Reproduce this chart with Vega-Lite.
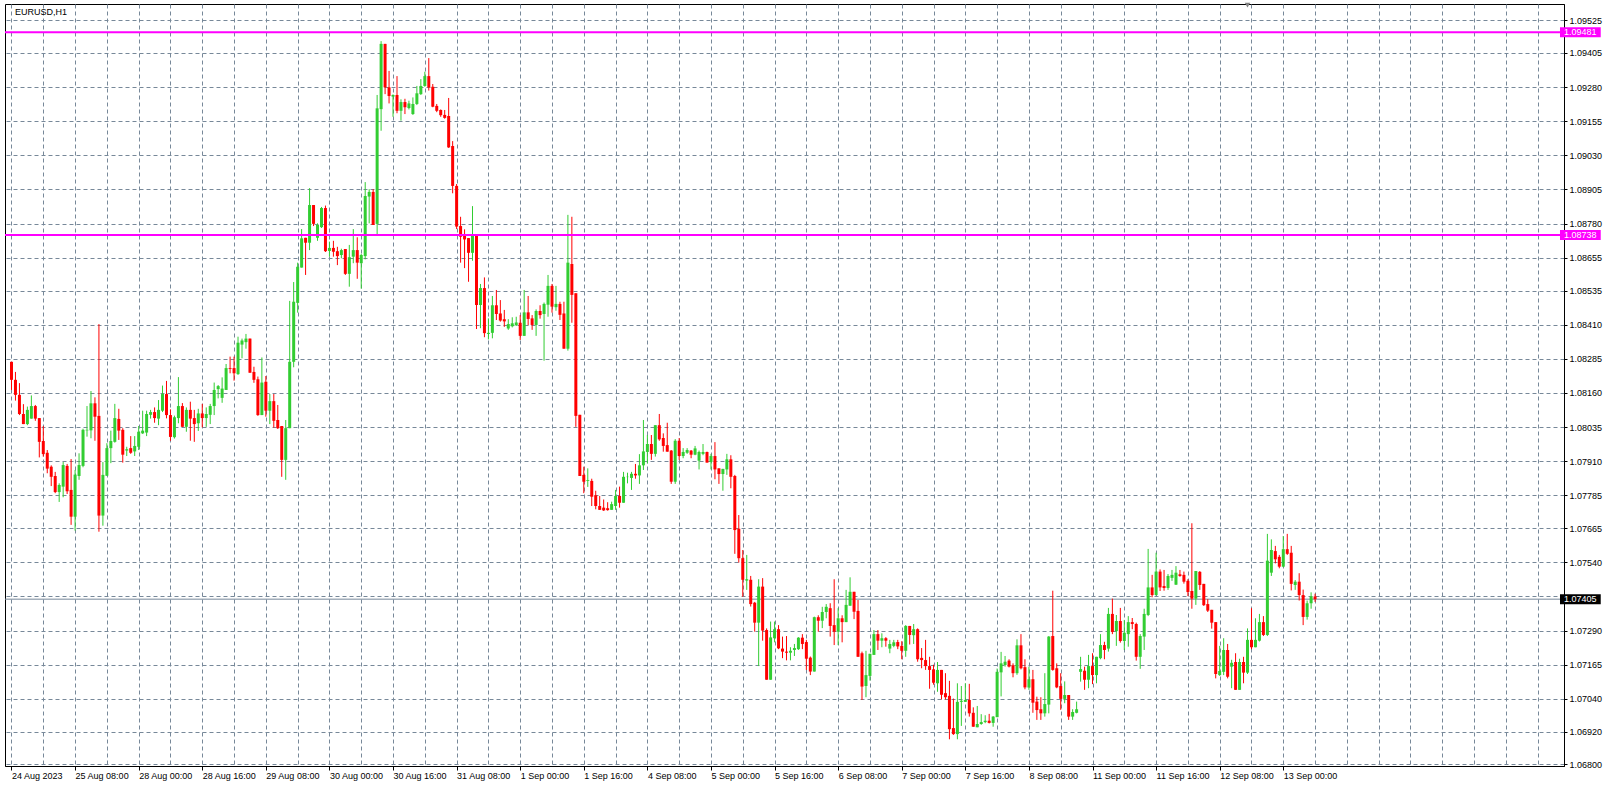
{
"$schema":"https://vega.github.io/schema/vega-lite/v6.json",
"width":1559,"height":762,
"autosize":{"type":"none"},
"padding":{"left":5,"top":4,"right":43,"bottom":21},
"background":"#ffffff",
"config":{"view":{"stroke":"#000000","strokeWidth":1},"font":"Liberation Sans"},
"datasets":{
"levels":[{"p":1.09481,"kind":"level"},{"p":1.08738,"kind":"level"},{"p":1.07405,"kind":"bid"}],
"bars":[
{"i":0,"o":1.08274,"h":1.08274,"l":1.08171,"c":1.08208},
{"i":1,"o":1.08208,"h":1.08237,"l":1.08132,"c":1.08153},
{"i":2,"o":1.08153,"h":1.08196,"l":1.08079,"c":1.08083},
{"i":3,"o":1.08083,"h":1.08119,"l":1.08046,"c":1.08046},
{"i":4,"o":1.08046,"h":1.08110,"l":1.08042,"c":1.08098},
{"i":5,"o":1.08066,"h":1.08151,"l":1.08066,"c":1.08112},
{"i":6,"o":1.08112,"h":1.08116,"l":1.08058,"c":1.08066},
{"i":7,"o":1.08068,"h":1.08068,"l":1.07924,"c":1.07981},
{"i":8,"o":1.07984,"h":1.08039,"l":1.07927,"c":1.07936},
{"i":9,"o":1.07941,"h":1.07951,"l":1.07866,"c":1.07883},
{"i":10,"o":1.07890,"h":1.07895,"l":1.07819,"c":1.07853},
{"i":11,"o":1.07856,"h":1.07871,"l":1.07793,"c":1.07797},
{"i":12,"o":1.07797,"h":1.07829,"l":1.07761,"c":1.07823},
{"i":13,"o":1.07817,"h":1.07907,"l":1.07778,"c":1.07896},
{"i":14,"o":1.07893,"h":1.07900,"l":1.07790,"c":1.07800},
{"i":15,"o":1.07805,"h":1.07918,"l":1.07677,"c":1.07707},
{"i":16,"o":1.07707,"h":1.07878,"l":1.07656,"c":1.07861},
{"i":17,"o":1.07856,"h":1.07939,"l":1.07842,"c":1.07896},
{"i":18,"o":1.07893,"h":1.08029,"l":1.07888,"c":1.08025},
{"i":19,"o":1.08023,"h":1.08112,"l":1.08000,"c":1.08025},
{"i":20,"o":1.08023,"h":1.08167,"l":1.07994,"c":1.08122},
{"i":21,"o":1.08122,"h":1.08144,"l":1.07985,"c":1.08073},
{"i":22,"o":1.08076,"h":1.08412,"l":1.07652,"c":1.07711},
{"i":23,"o":1.07711,"h":1.07907,"l":1.07674,"c":1.07860},
{"i":24,"o":1.07857,"h":1.07976,"l":1.07856,"c":1.07958},
{"i":25,"o":1.07958,"h":1.08022,"l":1.07903,"c":1.07984},
{"i":26,"o":1.07981,"h":1.08120,"l":1.07978,"c":1.08068},
{"i":27,"o":1.08065,"h":1.08102,"l":1.07988,"c":1.08022},
{"i":28,"o":1.08025,"h":1.08031,"l":1.07905,"c":1.07934},
{"i":29,"o":1.07949,"h":1.07963,"l":1.07929,"c":1.07954},
{"i":30,"o":1.07958,"h":1.08002,"l":1.07937,"c":1.07941},
{"i":31,"o":1.07946,"h":1.08002,"l":1.07929,"c":1.07966},
{"i":32,"o":1.07963,"h":1.08039,"l":1.07951,"c":1.08018},
{"i":33,"o":1.08012,"h":1.08095,"l":1.08010,"c":1.08022},
{"i":34,"o":1.08015,"h":1.08095,"l":1.08002,"c":1.08083},
{"i":35,"o":1.08080,"h":1.08098,"l":1.08066,"c":1.08090},
{"i":36,"o":1.08090,"h":1.08107,"l":1.08051,"c":1.08068},
{"i":37,"o":1.08066,"h":1.08134,"l":1.08042,"c":1.08098},
{"i":38,"o":1.08095,"h":1.08187,"l":1.08090,"c":1.08156},
{"i":39,"o":1.08156,"h":1.08204,"l":1.08067,"c":1.08079},
{"i":40,"o":1.08079,"h":1.08100,"l":1.07985,"c":1.07999},
{"i":41,"o":1.07998,"h":1.08077,"l":1.07993,"c":1.08071},
{"i":42,"o":1.08068,"h":1.08218,"l":1.08049,"c":1.08112},
{"i":43,"o":1.08112,"h":1.08123,"l":1.08036,"c":1.08036},
{"i":44,"o":1.08036,"h":1.08107,"l":1.08018,"c":1.08098},
{"i":45,"o":1.08098,"h":1.08128,"l":1.07985,"c":1.08066},
{"i":46,"o":1.08068,"h":1.08098,"l":1.07981,"c":1.08046},
{"i":47,"o":1.08049,"h":1.08102,"l":1.08021,"c":1.08085},
{"i":48,"o":1.08085,"h":1.08120,"l":1.08034,"c":1.08068},
{"i":49,"o":1.08068,"h":1.08107,"l":1.08036,"c":1.08083},
{"i":50,"o":1.08080,"h":1.08120,"l":1.08046,"c":1.08112},
{"i":51,"o":1.08112,"h":1.08198,"l":1.08079,"c":1.08171},
{"i":52,"o":1.08174,"h":1.08189,"l":1.08140,"c":1.08185},
{"i":53,"o":1.08142,"h":1.08217,"l":1.08124,"c":1.08176},
{"i":54,"o":1.08171,"h":1.08266,"l":1.08171,"c":1.08251},
{"i":55,"o":1.08251,"h":1.08293,"l":1.08232,"c":1.08248},
{"i":56,"o":1.08251,"h":1.08293,"l":1.08205,"c":1.08232},
{"i":57,"o":1.08229,"h":1.08366,"l":1.08226,"c":1.08344},
{"i":58,"o":1.08337,"h":1.08359,"l":1.08287,"c":1.08352},
{"i":59,"o":1.08346,"h":1.08376,"l":1.08322,"c":1.08359},
{"i":60,"o":1.08359,"h":1.08359,"l":1.08234,"c":1.08234},
{"i":61,"o":1.08237,"h":1.08256,"l":1.08197,"c":1.08208},
{"i":62,"o":1.08210,"h":1.08220,"l":1.08076,"c":1.08079},
{"i":63,"o":1.08079,"h":1.08290,"l":1.08079,"c":1.08198},
{"i":64,"o":1.08201,"h":1.08222,"l":1.08073,"c":1.08095},
{"i":65,"o":1.08095,"h":1.08156,"l":1.08046,"c":1.08130},
{"i":66,"o":1.08130,"h":1.08156,"l":1.08033,"c":1.08058},
{"i":67,"o":1.08061,"h":1.08116,"l":1.08028,"c":1.08031},
{"i":68,"o":1.08039,"h":1.08039,"l":1.07853,"c":1.07915},
{"i":69,"o":1.07915,"h":1.08061,"l":1.07842,"c":1.08031},
{"i":70,"o":1.08031,"h":1.08497,"l":1.08031,"c":1.08274},
{"i":71,"o":1.08274,"h":1.08566,"l":1.08254,"c":1.08494},
{"i":72,"o":1.08490,"h":1.08637,"l":1.08454,"c":1.08622},
{"i":73,"o":1.08619,"h":1.08760,"l":1.08619,"c":1.08726},
{"i":74,"o":1.08728,"h":1.08728,"l":1.08592,"c":1.08710},
{"i":75,"o":1.08710,"h":1.08910,"l":1.08683,"c":1.08848},
{"i":76,"o":1.08848,"h":1.08848,"l":1.08771,"c":1.08779},
{"i":77,"o":1.08728,"h":1.08781,"l":1.08717,"c":1.08775},
{"i":78,"o":1.08767,"h":1.08841,"l":1.08764,"c":1.08837},
{"i":79,"o":1.08837,"h":1.08846,"l":1.08676,"c":1.08679},
{"i":80,"o":1.08680,"h":1.08714,"l":1.08659,"c":1.08691},
{"i":81,"o":1.08691,"h":1.08717,"l":1.08659,"c":1.08677},
{"i":82,"o":1.08679,"h":1.08695,"l":1.08628,"c":1.08661},
{"i":83,"o":1.08665,"h":1.08688,"l":1.08653,"c":1.08683},
{"i":84,"o":1.08687,"h":1.08687,"l":1.08592,"c":1.08596},
{"i":85,"o":1.08596,"h":1.08702,"l":1.08549,"c":1.08657},
{"i":86,"o":1.08659,"h":1.08760,"l":1.08635,"c":1.08683},
{"i":87,"o":1.08683,"h":1.08730,"l":1.08578,"c":1.08637},
{"i":88,"o":1.08635,"h":1.08669,"l":1.08542,"c":1.08665},
{"i":89,"o":1.08661,"h":1.08932,"l":1.08649,"c":1.08881},
{"i":90,"o":1.08879,"h":1.08906,"l":1.08781,"c":1.08896},
{"i":91,"o":1.08896,"h":1.08906,"l":1.08775,"c":1.08775},
{"i":92,"o":1.08779,"h":1.09251,"l":1.08736,"c":1.09202},
{"i":93,"o":1.09199,"h":1.09448,"l":1.09120,"c":1.09438},
{"i":94,"o":1.09438,"h":1.09438,"l":1.09254,"c":1.09279},
{"i":95,"o":1.09279,"h":1.09339,"l":1.09220,"c":1.09247},
{"i":96,"o":1.09245,"h":1.09253,"l":1.09171,"c":1.09251},
{"i":97,"o":1.09251,"h":1.09320,"l":1.09184,"c":1.09193},
{"i":98,"o":1.09193,"h":1.09235,"l":1.09157,"c":1.09225},
{"i":99,"o":1.09225,"h":1.09237,"l":1.09181,"c":1.09206},
{"i":100,"o":1.09203,"h":1.09230,"l":1.09198,"c":1.09220},
{"i":101,"o":1.09181,"h":1.09242,"l":1.09178,"c":1.09218},
{"i":102,"o":1.09218,"h":1.09284,"l":1.09214,"c":1.09257},
{"i":103,"o":1.09254,"h":1.09309,"l":1.09251,"c":1.09284},
{"i":104,"o":1.09284,"h":1.09336,"l":1.09281,"c":1.09320},
{"i":105,"o":1.09320,"h":1.09386,"l":1.09267,"c":1.09279},
{"i":106,"o":1.09281,"h":1.09291,"l":1.09206,"c":1.09208},
{"i":107,"o":1.09211,"h":1.09218,"l":1.09188,"c":1.09193},
{"i":108,"o":1.09196,"h":1.09198,"l":1.09171,"c":1.09177},
{"i":109,"o":1.09178,"h":1.09196,"l":1.09164,"c":1.09167},
{"i":110,"o":1.09174,"h":1.09240,"l":1.09057,"c":1.09059},
{"i":111,"o":1.09064,"h":1.09082,"l":1.08891,"c":1.08918},
{"i":112,"o":1.08918,"h":1.08925,"l":1.08760,"c":1.08769},
{"i":113,"o":1.08771,"h":1.08805,"l":1.08637,"c":1.08732},
{"i":114,"o":1.08737,"h":1.08759,"l":1.08617,"c":1.08722},
{"i":115,"o":1.08727,"h":1.08727,"l":1.08567,"c":1.08673},
{"i":116,"o":1.08673,"h":1.08844,"l":1.08644,"c":1.08737},
{"i":117,"o":1.08737,"h":1.08737,"l":1.08394,"c":1.08482},
{"i":118,"o":1.08482,"h":1.08559,"l":1.08397,"c":1.08544},
{"i":119,"o":1.08544,"h":1.08583,"l":1.08364,"c":1.08379},
{"i":120,"o":1.08376,"h":1.08433,"l":1.08356,"c":1.08380},
{"i":121,"o":1.08380,"h":1.08515,"l":1.08360,"c":1.08481},
{"i":122,"o":1.08481,"h":1.08537,"l":1.08427,"c":1.08449},
{"i":123,"o":1.08451,"h":1.08500,"l":1.08421,"c":1.08425},
{"i":124,"o":1.08430,"h":1.08464,"l":1.08402,"c":1.08422},
{"i":125,"o":1.08396,"h":1.08430,"l":1.08391,"c":1.08412},
{"i":126,"o":1.08404,"h":1.08437,"l":1.08400,"c":1.08415},
{"i":127,"o":1.08408,"h":1.08439,"l":1.08405,"c":1.08418},
{"i":128,"o":1.08417,"h":1.08445,"l":1.08354,"c":1.08369},
{"i":129,"o":1.08369,"h":1.08537,"l":1.08369,"c":1.08455},
{"i":130,"o":1.08455,"h":1.08515,"l":1.08408,"c":1.08431},
{"i":131,"o":1.08433,"h":1.08445,"l":1.08391,"c":1.08409},
{"i":132,"o":1.08409,"h":1.08466,"l":1.08369,"c":1.08460},
{"i":133,"o":1.08460,"h":1.08481,"l":1.08432,"c":1.08445},
{"i":134,"o":1.08449,"h":1.08491,"l":1.08278,"c":1.08486},
{"i":135,"o":1.08483,"h":1.08592,"l":1.08439,"c":1.08552},
{"i":136,"o":1.08552,"h":1.08559,"l":1.08454,"c":1.08476},
{"i":137,"o":1.08474,"h":1.08552,"l":1.08461,"c":1.08486},
{"i":138,"o":1.08486,"h":1.08494,"l":1.08427,"c":1.08446},
{"i":139,"o":1.08451,"h":1.08494,"l":1.08322,"c":1.08322},
{"i":140,"o":1.08322,"h":1.08812,"l":1.08315,"c":1.08637},
{"i":141,"o":1.08632,"h":1.08805,"l":1.08417,"c":1.08519},
{"i":142,"o":1.08525,"h":1.08525,"l":1.08036,"c":1.08076},
{"i":143,"o":1.08080,"h":1.08080,"l":1.07856,"c":1.07856},
{"i":144,"o":1.07860,"h":1.07890,"l":1.07793,"c":1.07835},
{"i":145,"o":1.07838,"h":1.07884,"l":1.07816,"c":1.07841},
{"i":146,"o":1.07838,"h":1.07846,"l":1.07746,"c":1.07780},
{"i":147,"o":1.07785,"h":1.07802,"l":1.07734,"c":1.07746},
{"i":148,"o":1.07746,"h":1.07783,"l":1.07732,"c":1.07732},
{"i":149,"o":1.07740,"h":1.07770,"l":1.07728,"c":1.07730},
{"i":150,"o":1.07738,"h":1.07760,"l":1.07729,"c":1.07731},
{"i":151,"o":1.07732,"h":1.07762,"l":1.07732,"c":1.07753},
{"i":152,"o":1.07746,"h":1.07805,"l":1.07732,"c":1.07783},
{"i":153,"o":1.07783,"h":1.07817,"l":1.07740,"c":1.07758},
{"i":154,"o":1.07758,"h":1.07871,"l":1.07758,"c":1.07853},
{"i":155,"o":1.07852,"h":1.07868,"l":1.07829,"c":1.07853},
{"i":156,"o":1.07849,"h":1.07871,"l":1.07805,"c":1.07864},
{"i":157,"o":1.07864,"h":1.07900,"l":1.07846,"c":1.07858},
{"i":158,"o":1.07858,"h":1.07936,"l":1.07827,"c":1.07895},
{"i":159,"o":1.07895,"h":1.08061,"l":1.07878,"c":1.07946},
{"i":160,"o":1.07944,"h":1.08006,"l":1.07902,"c":1.07973},
{"i":161,"o":1.07973,"h":1.08006,"l":1.07915,"c":1.07937},
{"i":162,"o":1.07937,"h":1.08042,"l":1.07927,"c":1.08042},
{"i":163,"o":1.08042,"h":1.08083,"l":1.07985,"c":1.07990},
{"i":164,"o":1.07995,"h":1.08012,"l":1.07945,"c":1.07966},
{"i":165,"o":1.07969,"h":1.08051,"l":1.07945,"c":1.07945},
{"i":166,"o":1.07949,"h":1.07951,"l":1.07827,"c":1.07835},
{"i":167,"o":1.07835,"h":1.07991,"l":1.07827,"c":1.07985},
{"i":168,"o":1.07985,"h":1.07995,"l":1.07915,"c":1.07929},
{"i":169,"o":1.07929,"h":1.07958,"l":1.07921,"c":1.07944},
{"i":170,"o":1.07941,"h":1.07958,"l":1.07937,"c":1.07951},
{"i":171,"o":1.07949,"h":1.07951,"l":1.07921,"c":1.07934},
{"i":172,"o":1.07934,"h":1.07966,"l":1.07932,"c":1.07957},
{"i":173,"o":1.07912,"h":1.07949,"l":1.07880,"c":1.07944},
{"i":174,"o":1.07937,"h":1.07973,"l":1.07932,"c":1.07944},
{"i":175,"o":1.07944,"h":1.07945,"l":1.07905,"c":1.07905},
{"i":176,"o":1.07907,"h":1.07937,"l":1.07880,"c":1.07929},
{"i":177,"o":1.07929,"h":1.07980,"l":1.07844,"c":1.07880},
{"i":178,"o":1.07884,"h":1.07884,"l":1.07827,"c":1.07863},
{"i":179,"o":1.07863,"h":1.07882,"l":1.07802,"c":1.07882},
{"i":180,"o":1.07880,"h":1.07937,"l":1.07860,"c":1.07917},
{"i":181,"o":1.07917,"h":1.07932,"l":1.07811,"c":1.07853},
{"i":182,"o":1.07856,"h":1.07860,"l":1.07571,"c":1.07658},
{"i":183,"o":1.07663,"h":1.07713,"l":1.07539,"c":1.07555},
{"i":184,"o":1.07555,"h":1.07585,"l":1.07414,"c":1.07476},
{"i":185,"o":1.07473,"h":1.07567,"l":1.07439,"c":1.07478},
{"i":186,"o":1.07476,"h":1.07490,"l":1.07378,"c":1.07387},
{"i":187,"o":1.07392,"h":1.07395,"l":1.07286,"c":1.07319},
{"i":188,"o":1.07319,"h":1.07478,"l":1.07160,"c":1.07451},
{"i":189,"o":1.07451,"h":1.07482,"l":1.07253,"c":1.07290},
{"i":190,"o":1.07292,"h":1.07298,"l":1.07110,"c":1.07110},
{"i":191,"o":1.07110,"h":1.07323,"l":1.07110,"c":1.07265},
{"i":192,"o":1.07262,"h":1.07323,"l":1.07247,"c":1.07295},
{"i":193,"o":1.07295,"h":1.07310,"l":1.07222,"c":1.07225},
{"i":194,"o":1.07224,"h":1.07268,"l":1.07189,"c":1.07213},
{"i":195,"o":1.07213,"h":1.07270,"l":1.07181,"c":1.07209},
{"i":196,"o":1.07209,"h":1.07229,"l":1.07181,"c":1.07216},
{"i":197,"o":1.07219,"h":1.07241,"l":1.07197,"c":1.07226},
{"i":198,"o":1.07222,"h":1.07266,"l":1.07219,"c":1.07264},
{"i":199,"o":1.07264,"h":1.07277,"l":1.07222,"c":1.07241},
{"i":200,"o":1.07248,"h":1.07256,"l":1.07146,"c":1.07187},
{"i":201,"o":1.07191,"h":1.07195,"l":1.07127,"c":1.07140},
{"i":202,"o":1.07140,"h":1.07341,"l":1.07140,"c":1.07339},
{"i":203,"o":1.07339,"h":1.07346,"l":1.07286,"c":1.07326},
{"i":204,"o":1.07326,"h":1.07377,"l":1.07299,"c":1.07358},
{"i":205,"o":1.07358,"h":1.07387,"l":1.07335,"c":1.07377},
{"i":206,"o":1.07372,"h":1.07390,"l":1.07268,"c":1.07307},
{"i":207,"o":1.07310,"h":1.07478,"l":1.07237,"c":1.07286},
{"i":208,"o":1.07286,"h":1.07372,"l":1.07237,"c":1.07335},
{"i":209,"o":1.07335,"h":1.07346,"l":1.07247,"c":1.07321},
{"i":210,"o":1.07321,"h":1.07439,"l":1.07321,"c":1.07384},
{"i":211,"o":1.07381,"h":1.07485,"l":1.07381,"c":1.07432},
{"i":212,"o":1.07432,"h":1.07432,"l":1.07332,"c":1.07359},
{"i":213,"o":1.07362,"h":1.07402,"l":1.07194,"c":1.07194},
{"i":214,"o":1.07207,"h":1.07213,"l":1.07036,"c":1.07085},
{"i":215,"o":1.07087,"h":1.07216,"l":1.07046,"c":1.07127},
{"i":216,"o":1.07124,"h":1.07205,"l":1.07107,"c":1.07205},
{"i":217,"o":1.07201,"h":1.07292,"l":1.07201,"c":1.07277},
{"i":218,"o":1.07277,"h":1.07292,"l":1.07219,"c":1.07253},
{"i":219,"o":1.07253,"h":1.07280,"l":1.07229,"c":1.07262},
{"i":220,"o":1.07262,"h":1.07266,"l":1.07231,"c":1.07253},
{"i":221,"o":1.07224,"h":1.07256,"l":1.07207,"c":1.07241},
{"i":222,"o":1.07234,"h":1.07256,"l":1.07229,"c":1.07247},
{"i":223,"o":1.07248,"h":1.07256,"l":1.07222,"c":1.07232},
{"i":224,"o":1.07234,"h":1.07251,"l":1.07185,"c":1.07216},
{"i":225,"o":1.07216,"h":1.07310,"l":1.07194,"c":1.07307},
{"i":226,"o":1.07307,"h":1.07307,"l":1.07239,"c":1.07274},
{"i":227,"o":1.07273,"h":1.07314,"l":1.07241,"c":1.07295},
{"i":228,"o":1.07295,"h":1.07298,"l":1.07176,"c":1.07185},
{"i":229,"o":1.07190,"h":1.07226,"l":1.07152,"c":1.07182},
{"i":230,"o":1.07182,"h":1.07256,"l":1.07146,"c":1.07160},
{"i":231,"o":1.07160,"h":1.07194,"l":1.07077,"c":1.07146},
{"i":232,"o":1.07148,"h":1.07165,"l":1.07092,"c":1.07099},
{"i":233,"o":1.07097,"h":1.07175,"l":1.07066,"c":1.07146},
{"i":234,"o":1.07146,"h":1.07146,"l":1.07038,"c":1.07055},
{"i":235,"o":1.07061,"h":1.07134,"l":1.07038,"c":1.07046},
{"i":236,"o":1.07051,"h":1.07106,"l":1.06892,"c":1.06929},
{"i":237,"o":1.06933,"h":1.07041,"l":1.06908,"c":1.06911},
{"i":238,"o":1.06911,"h":1.07097,"l":1.06892,"c":1.07029},
{"i":239,"o":1.07029,"h":1.07087,"l":1.06941,"c":1.07033},
{"i":240,"o":1.07029,"h":1.07097,"l":1.07029,"c":1.07036},
{"i":241,"o":1.07036,"h":1.07095,"l":1.06975,"c":1.06987},
{"i":242,"o":1.06989,"h":1.07009,"l":1.06938,"c":1.06938},
{"i":243,"o":1.06936,"h":1.07014,"l":1.06936,"c":1.06948},
{"i":244,"o":1.06948,"h":1.06984,"l":1.06945,"c":1.06955},
{"i":245,"o":1.06955,"h":1.06980,"l":1.06951,"c":1.06960},
{"i":246,"o":1.06960,"h":1.06985,"l":1.06950,"c":1.06952},
{"i":247,"o":1.06952,"h":1.06977,"l":1.06938,"c":1.06975},
{"i":248,"o":1.06973,"h":1.07151,"l":1.06973,"c":1.07139},
{"i":249,"o":1.07137,"h":1.07212,"l":1.07049,"c":1.07170},
{"i":250,"o":1.07164,"h":1.07197,"l":1.07158,"c":1.07176},
{"i":251,"o":1.07180,"h":1.07185,"l":1.07155,"c":1.07158},
{"i":252,"o":1.07163,"h":1.07170,"l":1.07119,"c":1.07134},
{"i":253,"o":1.07134,"h":1.07258,"l":1.07128,"c":1.07236},
{"i":254,"o":1.07236,"h":1.07277,"l":1.07148,"c":1.07152},
{"i":255,"o":1.07156,"h":1.07185,"l":1.07075,"c":1.07082},
{"i":256,"o":1.07082,"h":1.07158,"l":1.07073,"c":1.07112},
{"i":257,"o":1.07112,"h":1.07146,"l":1.06989,"c":1.07026},
{"i":258,"o":1.07030,"h":1.07048,"l":1.06963,"c":1.06999},
{"i":259,"o":1.07002,"h":1.07046,"l":1.06963,"c":1.06987},
{"i":260,"o":1.06987,"h":1.07134,"l":1.06975,"c":1.07021},
{"i":261,"o":1.07019,"h":1.07270,"l":1.06987,"c":1.07268},
{"i":262,"o":1.07270,"h":1.07436,"l":1.07143,"c":1.07146},
{"i":263,"o":1.07152,"h":1.07170,"l":1.07079,"c":1.07082},
{"i":264,"o":1.07087,"h":1.07134,"l":1.07000,"c":1.07040},
{"i":265,"o":1.07040,"h":1.07104,"l":1.07024,"c":1.07054},
{"i":266,"o":1.07054,"h":1.07054,"l":1.06963,"c":1.06975},
{"i":267,"o":1.06975,"h":1.07002,"l":1.06963,"c":1.06992},
{"i":268,"o":1.06989,"h":1.07030,"l":1.06987,"c":1.07002},
{"i":269,"o":1.07139,"h":1.07194,"l":1.07103,"c":1.07149},
{"i":270,"o":1.07143,"h":1.07158,"l":1.07073,"c":1.07110},
{"i":271,"o":1.07110,"h":1.07201,"l":1.07079,"c":1.07160},
{"i":272,"o":1.07160,"h":1.07207,"l":1.07094,"c":1.07127},
{"i":273,"o":1.07127,"h":1.07194,"l":1.07097,"c":1.07194},
{"i":274,"o":1.07189,"h":1.07277,"l":1.07185,"c":1.07237},
{"i":275,"o":1.07237,"h":1.07249,"l":1.07185,"c":1.07219},
{"i":276,"o":1.07224,"h":1.07373,"l":1.07213,"c":1.07351},
{"i":277,"o":1.07351,"h":1.07407,"l":1.07277,"c":1.07285},
{"i":278,"o":1.07288,"h":1.07347,"l":1.07234,"c":1.07325},
{"i":279,"o":1.07325,"h":1.07373,"l":1.07246,"c":1.07252},
{"i":280,"o":1.07252,"h":1.07329,"l":1.07219,"c":1.07282},
{"i":281,"o":1.07277,"h":1.07343,"l":1.07231,"c":1.07321},
{"i":282,"o":1.07321,"h":1.07336,"l":1.07295,"c":1.07314},
{"i":283,"o":1.07314,"h":1.07319,"l":1.07180,"c":1.07194},
{"i":284,"o":1.07194,"h":1.07277,"l":1.07150,"c":1.07270},
{"i":285,"o":1.07268,"h":1.07370,"l":1.07219,"c":1.07351},
{"i":286,"o":1.07347,"h":1.07589,"l":1.07343,"c":1.07448},
{"i":287,"o":1.07448,"h":1.07494,"l":1.07412,"c":1.07420},
{"i":288,"o":1.07420,"h":1.07575,"l":1.07418,"c":1.07506},
{"i":289,"o":1.07506,"h":1.07514,"l":1.07435,"c":1.07448},
{"i":290,"o":1.07453,"h":1.07512,"l":1.07436,"c":1.07446},
{"i":291,"o":1.07446,"h":1.07497,"l":1.07439,"c":1.07490},
{"i":292,"o":1.07483,"h":1.07512,"l":1.07472,"c":1.07494},
{"i":293,"o":1.07458,"h":1.07526,"l":1.07457,"c":1.07502},
{"i":294,"o":1.07496,"h":1.07512,"l":1.07487,"c":1.07490},
{"i":295,"o":1.07494,"h":1.07506,"l":1.07462,"c":1.07469},
{"i":296,"o":1.07472,"h":1.07478,"l":1.07416,"c":1.07431},
{"i":297,"o":1.07435,"h":1.07683,"l":1.07370,"c":1.07407},
{"i":298,"o":1.07407,"h":1.07508,"l":1.07384,"c":1.07508},
{"i":299,"o":1.07505,"h":1.07508,"l":1.07439,"c":1.07457},
{"i":300,"o":1.07461,"h":1.07461,"l":1.07380,"c":1.07383},
{"i":301,"o":1.07387,"h":1.07405,"l":1.07358,"c":1.07363},
{"i":302,"o":1.07366,"h":1.07366,"l":1.07297,"c":1.07319},
{"i":303,"o":1.07321,"h":1.07321,"l":1.07115,"c":1.07131},
{"i":304,"o":1.07127,"h":1.07234,"l":1.07124,"c":1.07142},
{"i":305,"o":1.07139,"h":1.07262,"l":1.07127,"c":1.07219},
{"i":306,"o":1.07219,"h":1.07241,"l":1.07115,"c":1.07121},
{"i":307,"o":1.07158,"h":1.07183,"l":1.07079,"c":1.07172},
{"i":308,"o":1.07175,"h":1.07207,"l":1.07073,"c":1.07073},
{"i":309,"o":1.07073,"h":1.07187,"l":1.07073,"c":1.07175},
{"i":310,"o":1.07175,"h":1.07194,"l":1.07097,"c":1.07136},
{"i":311,"o":1.07136,"h":1.07298,"l":1.07131,"c":1.07256},
{"i":312,"o":1.07256,"h":1.07372,"l":1.07222,"c":1.07229},
{"i":313,"o":1.07229,"h":1.07335,"l":1.07229,"c":1.07256},
{"i":314,"o":1.07253,"h":1.07351,"l":1.07250,"c":1.07321},
{"i":315,"o":1.07321,"h":1.07343,"l":1.07270,"c":1.07274},
{"i":316,"o":1.07274,"h":1.07644,"l":1.07270,"c":1.07546},
{"i":317,"o":1.07502,"h":1.07624,"l":1.07490,"c":1.07585},
{"i":318,"o":1.07581,"h":1.07600,"l":1.07536,"c":1.07551},
{"i":319,"o":1.07560,"h":1.07567,"l":1.07518,"c":1.07524},
{"i":320,"o":1.07524,"h":1.07636,"l":1.07522,"c":1.07588},
{"i":321,"o":1.07588,"h":1.07644,"l":1.07567,"c":1.07571},
{"i":322,"o":1.07575,"h":1.07600,"l":1.07437,"c":1.07461},
{"i":323,"o":1.07457,"h":1.07475,"l":1.07439,"c":1.07469},
{"i":324,"o":1.07469,"h":1.07500,"l":1.07400,"c":1.07420},
{"i":325,"o":1.07420,"h":1.07440,"l":1.07310,"c":1.07340},
{"i":326,"o":1.07340,"h":1.07400,"l":1.07330,"c":1.07390},
{"i":327,"o":1.07390,"h":1.07430,"l":1.07370,"c":1.07415},
{"i":328,"o":1.07415,"h":1.07425,"l":1.07395,"c":1.07405}
]},
"layer":[
{"data":{"name":"levels"},"transform":[{"filter":"datum.kind == 'bid'"}],
 "mark":{"type":"rule","color":"#778899","strokeWidth":1},
 "encoding":{"y":{"field":"p","type":"quantitative","title":null}}},
{"data":{"name":"bars"},
 "mark":{"type":"rule","strokeWidth":1},
 "encoding":{
  "x":{"field":"i","type":"quantitative","title":null,
   "scale":{"domain":[-0.375,389.375],"nice":false,"zero":false},
   "axis":{"values":[0,8,16,24,32,40,48,56,64,72,80,88,96,104,112,120,128,136,144,152,160,168,176,184,192,200,208,216,224,232,240,248,256,264,272,280,288,296,304,312,320,328,336,344,352,360,368,376,384],
    "tickCount":200,
    "grid":true,"gridColor":"#778899","gridDash":[4,3],"gridWidth":1,
    "domain":true,"domainColor":"#000000",
    "tickColor":"#000000","tickSize":4,
    "tickOpacity":{"condition":{"test":"datum.value % 16 === 0 && datum.value <= 320","value":1},"value":0},
    "labelExpr":"(datum.value % 16 === 0 && datum.value <= 320) ? ['24 Aug 2023','25 Aug 08:00','28 Aug 00:00','28 Aug 16:00','29 Aug 08:00','30 Aug 00:00','30 Aug 16:00','31 Aug 08:00','1 Sep 00:00','1 Sep 16:00','4 Sep 08:00','5 Sep 00:00','5 Sep 16:00','6 Sep 08:00','7 Sep 00:00','7 Sep 16:00','8 Sep 08:00','11 Sep 00:00','11 Sep 16:00','12 Sep 08:00','13 Sep 00:00'][datum.value / 16] : ''",
    "labelAlign":"left","labelBaseline":"top","labelPadding":1,"labelFontSize":9,"labelFont":"Liberation Sans","labelColor":"#000000",
    "labelOverlap":false,"labelFlush":false,"labelBound":false,"title":null}},
  "y":{"field":"l","type":"quantitative","title":null,
   "scale":{"domain":[1.067942,1.09584],"nice":false,"zero":false},
   "axis":{"orient":"right","values":[1.09525,1.09405,1.0928,1.09155,1.0903,1.08905,1.0878,1.08655,1.08535,1.0841,1.08285,1.0816,1.08035,1.0791,1.07785,1.07665,1.0754,1.07415,1.0729,1.07165,1.0704,1.0692,1.068],
    "tickCount":200,
    "labelExpr":"abs(datum.value - 1.07415) < 0.000001 ? '' : format(datum.value, '.5f')",
    "grid":true,"gridColor":"#778899","gridDash":[4,3],"gridWidth":1,
    "domain":true,"domainColor":"#000000","tickColor":"#000000","tickSize":3,
    "labelPadding":2,"labelFontSize":9,"labelFont":"Liberation Sans","labelColor":"#000000",
    "labelOverlap":false,"labelFlush":false,"labelBound":false,"title":null}},
  "y2":{"field":"h"},
  "color":{"condition":{"test":"datum.c >= datum.o","value":"#32CD32"},"value":"#FF0000"}}},
{"data":{"name":"bars"},
 "mark":{"type":"bar","size":3},
 "encoding":{
  "x":{"field":"i","type":"quantitative","title":null},
  "y":{"field":"o","type":"quantitative","title":null},
  "y2":{"field":"c"},
  "color":{"condition":{"test":"datum.c >= datum.o","value":"#32CD32"},"value":"#FF0000"}}},
{"data":{"name":"levels"},"transform":[{"filter":"datum.kind == 'level'"}],
 "mark":{"type":"rule","color":"#FF00FF","strokeWidth":2},
 "encoding":{"y":{"field":"p","type":"quantitative","title":null}}},
{"data":{"name":"levels"},
 "mark":{"type":"rect","yOffset":-5,"y2Offset":5},
 "encoding":{
  "x":{"datum":389.625},"x2":{"datum":399.875},
  "y":{"field":"p","type":"quantitative","title":null},"y2":{"field":"p"},
  "color":{"condition":{"test":"datum.kind == 'bid'","value":"#000000"},"value":"#FF00FF"}}},
{"data":{"name":"levels"},
 "mark":{"type":"text","align":"left","baseline":"middle","fontSize":9,"font":"Liberation Sans","color":"#FFFFFF"},
 "encoding":{
  "x":{"datum":390.625},
  "y":{"field":"p","type":"quantitative","title":null},
  "text":{"field":"p","type":"quantitative","format":".5f"}}},
{"data":{"values":[{"t":"EURUSD,H1"}]},
 "mark":{"type":"text","align":"left","baseline":"middle","fontSize":9,"font":"Liberation Sans","color":"#000000"},
 "encoding":{"x":{"datum":0.875},"y":{"datum":1.09555},"text":{"field":"t"}}},
{"data":{"values":[{"t":"shift"}]},
 "mark":{"type":"point","shape":"triangle-down","filled":true,"size":30,"color":"#808080","opacity":1},
 "encoding":{"x":{"datum":311},"y":{"datum":1.0958}}}
]
}
